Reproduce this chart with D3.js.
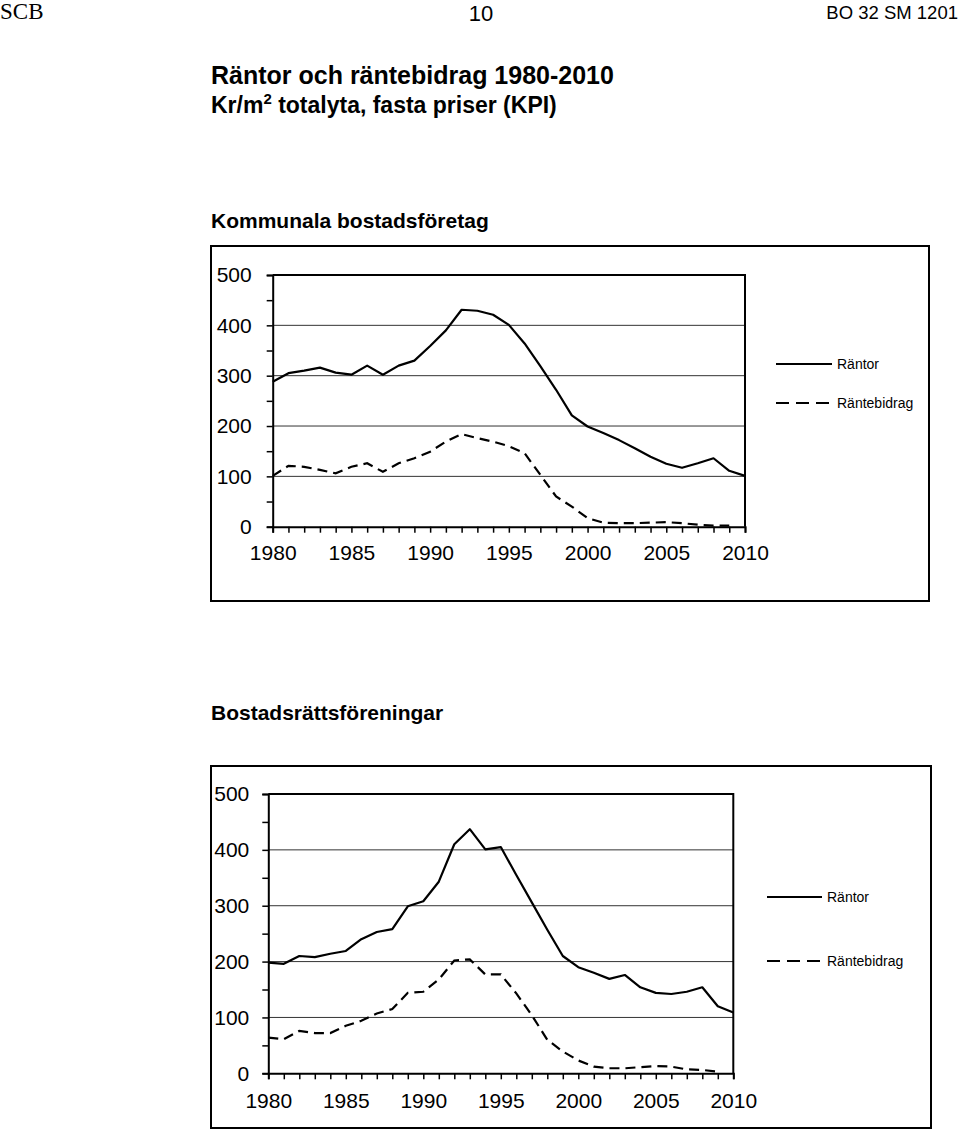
<!DOCTYPE html>
<html>
<head>
<meta charset="utf-8">
<script src="https://cdn.jsdelivr.net/npm/d3@7"></script>
<style>
  body { margin: 0; background: #fff; }
  svg { display: block; }
</style>
</head>
<body>
<svg id="chart"></svg>
<script>
// years 1980-2010
const years = d3.range(1980, 2011);

// Kommunala bostadsföretag
const komRantor = [288, 305, 310, 316, 306, 302, 320, 302, 320, 330, 359, 390, 431, 429, 421,
  401, 364, 319, 272, 221, 199, 186, 172, 156, 139, 125, 117, 126, 136, 111, 101];
const komBidrag = [101, 121, 119, 113, 106, 119, 126, 109, 126, 136, 149, 169, 184, 176, 169,
  160, 146, 103, 60, 40, 17, 8, 7, 7, 8, 9, 7, 4, 2, 2, null];

// Bostadsrättsföreningar
const brfRantor = [198, 196, 210, 208, 214, 219, 240, 253, 258, 299, 308, 343, 410, 437, 401,
  405, 355, 306, 257, 210, 190, 180, 169, 176, 154, 144, 142, 146, 154, 120, 109];
const brfBidrag = [64, 61, 76, 72, 72, 85, 94, 107, 115, 144, 146, 168, 202, 204, 177,
  177, 143, 104, 60, 39, 23, 12, 9, 9, 11, 13, 12, 7, 6, 3, null];

const yTicks = d3.range(0, 501, 50);
const xLabelYears = [1980, 1985, 1990, 1995, 2000, 2005, 2010];
const seriesNames = ["Räntor", "Räntebidrag"];

const width = 960, height = 1131;
const svg = d3.select("#chart").attr("width", width).attr("height", height);

const sans = "'Liberation Sans', Arial, sans-serif";

// sidhuvud
svg.append("text").attr("x", 0).attr("y", 19)
    .attr("font-family", "'Liberation Serif', 'Times New Roman', serif")
    .attr("font-size", 23).text("SCB");
svg.append("text").attr("x", 481).attr("y", 21).attr("text-anchor", "middle")
    .attr("font-family", sans).attr("font-size", 22).text("10");
svg.append("text").attr("x", 958).attr("y", 19).attr("text-anchor", "end")
    .attr("font-family", sans).attr("font-size", 18.5).text("BO 32 SM 1201");

// rubrik
svg.append("text").attr("x", 211).attr("y", 84)
    .attr("font-family", sans).attr("font-size", 25).attr("font-weight", "bold")
    .text("Räntor och räntebidrag 1980-2010");
const sub = svg.append("text").attr("x", 211).attr("y", 113)
    .attr("font-family", sans).attr("font-size", 23).attr("font-weight", "bold");
sub.append("tspan").text("Kr/m");
sub.append("tspan").attr("font-size", 15).attr("dy", -9).text("2");
sub.append("tspan").attr("dy", 9).text(" totalyta, fasta priser (KPI)");

const charts = [
  {
    title: "Kommunala bostadsföretag", titleY: 228,
    rantor: komRantor, bidrag: komBidrag,
    frame: { x: 211, y: 246, w: 718, h: 355 },
    plot: { l: 272.7, t: 275, r: 745, b: 526.7 },
    legend: { x1: 776, x2: 832, y1: 364, y2: 403 },
    xLabelDy: 33, yPad: 15
  },
  {
    title: "Bostadsrättsföreningar", titleY: 720,
    rantor: brfRantor, bidrag: brfBidrag,
    frame: { x: 211, y: 766, w: 720, h: 362 },
    plot: { l: 268.3, t: 794, r: 733.3, b: 1073.3 },
    legend: { x1: 767, x2: 822, y1: 897, y2: 961 },
    xLabelDy: 35, yPad: 13
  }
];

charts.forEach(c => {
  svg.append("text").attr("x", 211).attr("y", c.titleY)
      .attr("font-family", sans).attr("font-size", 21).attr("font-weight", "bold")
      .text(c.title);

  // yttre ram
  svg.append("rect")
      .attr("x", c.frame.x).attr("y", c.frame.y)
      .attr("width", c.frame.w).attr("height", c.frame.h)
      .attr("fill", "none").attr("stroke", "#000").attr("stroke-width", 2);

  const x = d3.scaleLinear().domain([1980, 2010]).range([c.plot.l, c.plot.r]);
  const y = d3.scaleLinear().domain([0, 500]).range([c.plot.b, c.plot.t]);

  const g = svg.append("g");

  // stödlinjer
  g.append("g").selectAll("line")
    .data([100, 200, 300, 400])
    .join("line")
      .attr("x1", c.plot.l).attr("x2", c.plot.r)
      .attr("y1", d => y(d)).attr("y2", d => y(d))
      .attr("stroke", "#333").attr("stroke-width", 1);

  // övre och högra kanten
  g.append("path")
      .attr("d", `M${c.plot.l},${y(500)}H${c.plot.r}V${y(0)}`)
      .attr("fill", "none").attr("stroke", "#000").attr("stroke-width", 2);

  // y-axel
  const yAxis = g.append("g")
      .attr("transform", `translate(${c.plot.l},0)`)
      .call(d3.axisLeft(y).tickValues(yTicks).tickSize(6).tickPadding(c.yPad)
        .tickFormat(d => d % 100 === 0 ? d : ""));
  yAxis.select(".domain").attr("stroke-width", 2);
  yAxis.selectAll(".tick line").attr("stroke-width", 1.5);
  yAxis.selectAll("text").attr("font-family", sans).attr("font-size", 21).attr("fill", "#000");

  // x-axel
  const xAxis = g.append("g")
      .attr("transform", `translate(0,${c.plot.b})`)
      .call(d3.axisBottom(x).tickValues(years).tickSize(6).tickPadding(c.xLabelDy - 21)
        .tickFormat(d => xLabelYears.includes(d) ? d : ""));
  xAxis.select(".domain").attr("stroke-width", 2);
  xAxis.selectAll(".tick line").attr("stroke-width", 1.5);
  xAxis.selectAll("text").attr("font-family", sans).attr("font-size", 21).attr("fill", "#000");

  const line = d3.line()
      .defined(d => d[1] != null)
      .x(d => x(d[0]))
      .y(d => y(d[1]));

  g.append("path")
      .datum(years.map((yr, i) => [yr, c.rantor[i]]))
      .attr("d", line)
      .attr("fill", "none").attr("stroke", "#000").attr("stroke-width", 2.2)
      .attr("stroke-linejoin", "round");

  g.append("path")
      .datum(years.map((yr, i) => [yr, c.bidrag[i]]))
      .attr("d", line)
      .attr("fill", "none").attr("stroke", "#000").attr("stroke-width", 2.2)
      .attr("stroke-dasharray", "10,6");

  // legend
  const leg = svg.append("g");
  [c.legend.y1, c.legend.y2].forEach((ly, i) => {
    leg.append("line")
        .attr("x1", c.legend.x1).attr("x2", c.legend.x2)
        .attr("y1", ly).attr("y2", ly)
        .attr("stroke", "#000").attr("stroke-width", 2.2)
        .attr("stroke-dasharray", i === 1 ? "13,7" : null);
    leg.append("text")
        .attr("x", c.legend.x2 + 5).attr("y", ly + 5)
        .attr("font-family", sans).attr("font-size", 14)
        .text(seriesNames[i]);
  });
});
</script>
</body>
</html>
